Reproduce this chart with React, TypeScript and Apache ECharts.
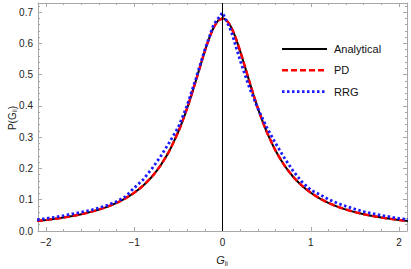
import React, { useEffect, useRef } from "react";
import * as echarts from "echarts";

const FONT = "'Liberation Sans', Arial, sans-serif";

// x positions of the curves
const curveX = [
  -2.1, -2.0, -1.9, -1.8, -1.7, -1.6, -1.5, -1.4, -1.3, -1.2, -1.1, -1.0, -0.9, -0.8, -0.7, -0.6,
  -0.5, -0.45, -0.4, -0.35, -0.3, -0.25, -0.2, -0.15, -0.1, -0.05, 0,
  0.05, 0.1, 0.15, 0.2, 0.25, 0.3, 0.35, 0.4, 0.45, 0.5,
  0.6, 0.7, 0.8, 0.9, 1.0, 1.1, 1.2, 1.3, 1.4, 1.5, 1.6, 1.7, 1.8, 1.9, 2.0, 2.1,
];

const analytical = [
  0.0322, 0.0353, 0.0389, 0.0431, 0.0479, 0.0536, 0.0603, 0.0684, 0.078, 0.0898, 0.1042, 0.1222, 0.1448, 0.1734, 0.2101, 0.2573,
  0.3176, 0.3534, 0.3931, 0.4362, 0.4821, 0.5292, 0.5752, 0.6168, 0.6505, 0.6726, 0.68,
  0.6726, 0.6505, 0.6168, 0.5752, 0.5292, 0.4821, 0.4362, 0.3931, 0.3534, 0.3176,
  0.2573, 0.2101, 0.1734, 0.1448, 0.1222, 0.1042, 0.0898, 0.078, 0.0684, 0.0603, 0.0536, 0.0479, 0.0431, 0.0389, 0.0353, 0.0322,
];

const pd = [
  0.0324, 0.0354, 0.0390, 0.0432, 0.0481, 0.0537, 0.0604, 0.0686, 0.0782, 0.0899, 0.1044, 0.1224, 0.1450, 0.1735, 0.2103, 0.2575,
  0.3178, 0.3536, 0.3933, 0.4364, 0.4823, 0.5294, 0.5754, 0.6170, 0.6503, 0.6722, 0.679,
  0.6722, 0.6503, 0.6170, 0.5754, 0.5294, 0.4823, 0.4364, 0.3933, 0.3536, 0.3178,
  0.2575, 0.2103, 0.1735, 0.1450, 0.1224, 0.1044, 0.0899, 0.0782, 0.0686, 0.0604, 0.0537, 0.0481, 0.0432, 0.0390, 0.0354, 0.0324,
];

const rrgX = [
  -2.1, -2.0, -1.9, -1.8, -1.7, -1.6, -1.5, -1.4, -1.3, -1.2, -1.1, -1.0, -0.9, -0.8, -0.7, -0.6, -0.5, -0.4, -0.3, -0.2, -0.1, 0,
  0.1, 0.2, 0.3, 0.4, 0.5, 0.6, 0.7, 0.8, 0.9, 1.0, 1.1, 1.2, 1.3, 1.4, 1.5, 1.6, 1.7, 1.8, 1.9, 2.0, 2.1,
];
const rrg = [
  0.036, 0.040, 0.044, 0.049, 0.055, 0.060, 0.066, 0.074, 0.083, 0.094, 0.110, 0.138, 0.164, 0.199, 0.239, 0.284, 0.332, 0.402, 0.488, 0.580, 0.66, 0.698,
  0.638, 0.545, 0.462, 0.392, 0.332, 0.281, 0.234, 0.192, 0.157, 0.131, 0.117, 0.101, 0.089, 0.079, 0.070, 0.062, 0.056, 0.050, 0.045, 0.040, 0.037,
];

const legendNames = ["Analytical", "PD", "RRG"];
const legendColors = ["#000000", "#ff0000", "#1a1aff"];
const xTitle = "{g|G}{s|ii}";
const yTitle = "{t|P(G}{s|ii}{t|)}";

const xMajor = [-2, -1, 0, 1, 2];
const xMinor = [-1.8, -1.6, -1.4, -1.2, -0.8, -0.6, -0.4, -0.2, 0.2, 0.4, 0.6, 0.8, 1.2, 1.4, 1.6, 1.8];
const yMajor = [0, 0.1, 0.2, 0.3, 0.4, 0.5, 0.6, 0.7];
const yMinor = [
  0.02, 0.04, 0.06, 0.08, 0.12, 0.14, 0.16, 0.18, 0.22, 0.24, 0.26, 0.28, 0.32, 0.34, 0.36, 0.38,
  0.42, 0.44, 0.46, 0.48, 0.52, 0.54, 0.56, 0.58, 0.62, 0.64, 0.66, 0.68, 0.72,
];

const X_MIN = -2.09;
const X_MAX = 2.09;
const Y_MIN = 0;
const Y_MAX = 0.729;
const FRAME = "#a8a8a8";

function xAxisDef(position: string, values: number[], len: number, labels: boolean, line: boolean) {
  return {
    type: "value",
    position,
    min: X_MIN,
    max: X_MAX,
    splitLine: { show: false },
    axisLine: { show: line, onZero: false, lineStyle: { color: FRAME, width: 1 } },
    axisTick: { show: true, inside: true, length: len, customValues: values, lineStyle: { color: FRAME, width: 1 } },
    axisLabel: labels
      ? {
          show: true,
          customValues: values,
          margin: 6,
          color: "#222",
          fontSize: 10,
          fontFamily: FONT,
          formatter: (v: number) => (v < 0 ? "\u2212" + Math.abs(v) : String(v)),
        }
      : { show: false },
  };
}

function yAxisDef(position: string, values: number[], len: number, labels: boolean, line: boolean) {
  return {
    type: "value",
    position,
    min: Y_MIN,
    max: Y_MAX,
    splitLine: { show: false },
    axisLine: { show: line, onZero: false, lineStyle: { color: FRAME, width: 1 } },
    axisTick: { show: true, inside: true, length: len, customValues: values, lineStyle: { color: FRAME, width: 1 } },
    axisLabel: labels
      ? {
          show: true,
          customValues: values,
          margin: 5,
          color: "#222",
          fontSize: 10,
          fontFamily: FONT,
          formatter: (v: number) => v.toFixed(1),
        }
      : { show: false },
  };
}

export default function App() {
  const ref = useRef<HTMLDivElement>(null);
  useEffect(() => {
    if (!ref.current) return;
    const chart = echarts.init(ref.current, null, { renderer: "svg" });
    const dashes: any[] = [null, [6, 3], [2.5, 2.5]];
    const widths = [2, 2.5, 2.8];
    const graphics: any[] = [];
    legendNames.forEach((name, i) => {
      const y = 49 + i * 21.3;
      graphics.push({
        type: "line",
        shape: { x1: 282, y1: y, x2: 327, y2: y },
        style: { stroke: legendColors[i], lineWidth: widths[i], lineDash: dashes[i] || undefined },
      });
      graphics.push({
        type: "text",
        x: 334,
        y: y,
        style: { text: name, fontSize: 11, fontFamily: FONT, fill: "#111", verticalAlign: "middle", align: "left" },
      });
    });
    graphics.push({
      type: "text",
      x: 222,
      y: 260,
      style: {
        text: xTitle,
        align: "center",
        verticalAlign: "middle",
        rich: {
          g: { fontStyle: "italic", fontSize: 11, fontFamily: FONT, fill: "#222" },
          s: { fontSize: 7, fontFamily: FONT, fill: "#222", padding: [6, 0, 0, 0] },
        },
      },
    });
    graphics.push({
      type: "text",
      x: 12,
      y: 118,
      rotation: Math.PI / 2,
      style: {
        text: yTitle,
        align: "center",
        verticalAlign: "middle",
        rich: {
          t: { fontSize: 10, fontFamily: FONT, fill: "#222" },
          s: { fontSize: 7, fontFamily: FONT, fill: "#222", padding: [5, 0, 0, 0] },
        },
      },
    });
    const option: any = {
      animation: false,
      backgroundColor: "#fff",
      grid: { left: 38, right: 4, top: 3, bottom: 38, outerBoundsMode: "none", containLabel: false },
      xAxis: [
        xAxisDef("bottom", xMajor, 4, true, true),
        xAxisDef("bottom", xMinor, 2, false, false),
        xAxisDef("top", xMajor, 4, false, true),
        xAxisDef("top", xMinor, 2, false, false),
      ],
      yAxis: [
        yAxisDef("left", yMajor, 4, true, true),
        yAxisDef("left", yMinor, 2, false, false),
        yAxisDef("right", yMajor, 4, false, true),
        yAxisDef("right", yMinor, 2, false, false),
      ],
      graphic: graphics,
      series: [
        {
          name: "Analytical",
          type: "line",
          xAxisIndex: 0,
          yAxisIndex: 0,
          data: curveX.map((x, i) => [x, analytical[i]]),
          showSymbol: false,
          symbol: "none",
          smooth: 0.2,
          lineStyle: { color: legendColors[0], width: 2 },
          markLine: {
            silent: true,
            symbol: "none",
            label: { show: false },
            lineStyle: { color: "#000", width: 1, type: "solid" },
            data: [{ xAxis: 0 }],
          },
        },
        {
          name: "PD",
          type: "line",
          xAxisIndex: 0,
          yAxisIndex: 0,
          data: curveX.map((x, i) => [x, pd[i]]),
          showSymbol: false,
          symbol: "none",
          smooth: 0.2,
          lineStyle: { color: legendColors[1], width: 2.5, type: [6, 3] },
        },
        {
          name: "RRG",
          type: "line",
          xAxisIndex: 0,
          yAxisIndex: 0,
          data: rrgX.map((x, i) => [x, rrg[i]]),
          showSymbol: false,
          symbol: "none",
          lineStyle: { color: legendColors[2], width: 2.8, type: [2.5, 2.5] },
        },
      ],
    };
    chart.setOption(option);
    return () => chart.dispose();
  }, []);
  return <div ref={ref} style={{ width: 411, height: 269, position: "absolute", left: 0, top: 0 }} />;
}
